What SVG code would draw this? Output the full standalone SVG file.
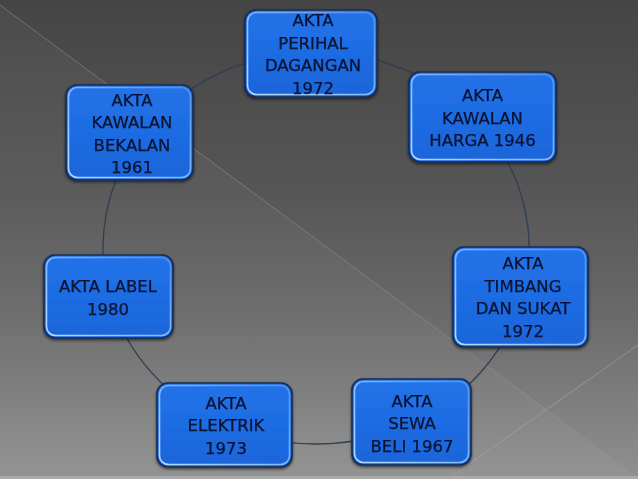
<svg xmlns="http://www.w3.org/2000/svg" width="638" height="479" viewBox="0 0 638 479">
<defs>
<linearGradient id="bg" x1="0" y1="0" x2="0" y2="1">
<stop offset="0" stop-color="#454545"/>
<stop offset="0.4" stop-color="#565656"/>
<stop offset="0.65" stop-color="#696969"/>
<stop offset="1" stop-color="#909090"/>
</linearGradient>
<linearGradient id="fill" x1="0" y1="0" x2="0" y2="1">
<stop offset="0" stop-color="#2572e8"/>
<stop offset="0.5" stop-color="#1d6ce2"/>
<stop offset="1" stop-color="#1a64da"/>
</linearGradient>
<linearGradient id="bevel" x1="0" y1="1" x2="1" y2="0">
<stop offset="0" stop-color="#b4dcff"/>
<stop offset="0.5" stop-color="#7fb8ff"/>
<stop offset="1" stop-color="#4f8fe8"/>
</linearGradient>
<filter id="sh" x="-10%" y="-10%" width="120%" height="125%">
<feDropShadow dx="0" dy="1.5" stdDeviation="1.8" flood-color="#000" flood-opacity="0.6"/>
</filter>
</defs>
<style>
.box{fill:url(#fill);stroke:#172c52;stroke-width:1.6}
.bev{fill:none;stroke:url(#bevel);stroke-width:1.6}
.t{font-family:"DejaVu Sans","Liberation Sans",sans-serif;font-size:16.5px;fill:#081230;stroke:#081230;stroke-width:0.25;text-anchor:middle}
.arc{fill:none;stroke:#2f3f52;stroke-width:1.3}
</style>
<rect x="0" y="0" width="638" height="479" fill="url(#bg)"/>
<polygon points="0,5 638,478 0,479" fill="#ffffff" fill-opacity="0.035"/>
<line x1="0" y1="5" x2="638" y2="478" stroke="#9a9a9a" stroke-opacity="0.5" stroke-width="1"/>
<line x1="448" y1="479" x2="638" y2="345" stroke="#a8a8a8" stroke-opacity="0.6" stroke-width="1"/>
<rect x="0" y="476" width="638" height="3" fill="#ababab"/>
<g id="connectors">
<path class="arc" d="M316,52 A213,196 0 0,1 477.8,120.4"/>
<path class="arc" d="M477.8,120.4 A213,196 0 0,1 522.1,297.4"/>
<path class="arc" d="M522.1,297.4 A213,196 0 0,1 411.7,423.1"/>
<path class="arc" d="M411.7,423.1 A213,196 0 0,1 224,424.8"/>
<path class="arc" d="M224,424.8 A213,196 0 0,1 109.3,295.4"/>
<path class="arc" d="M109.3,295.4 A213,196 0 0,1 139.4,138.4"/>
<path class="arc" d="M139.4,138.4 A213,196 0 0,1 316,52"/>
</g>
<g id="n1" filter="url(#sh)">
<rect class="box" x="245" y="10" width="132" height="87" rx="11"/>
<rect class="bev" x="247.5" y="12.5" width="127" height="82" rx="9"/>
<text class="t" x="313" y="26">AKTA</text>
<text class="t" x="313" y="48.5">PERIHAL</text>
<text class="t" x="313" y="71">DAGANGAN</text>
<text class="t" x="313" y="93.5">1972</text>
</g>
<g id="n2" filter="url(#sh)">
<rect class="box" x="409" y="72" width="147" height="90" rx="11"/>
<rect class="bev" x="411.5" y="74.5" width="142" height="85" rx="9"/>
<text class="t" x="482.5" y="101">AKTA</text>
<text class="t" x="482.5" y="123.5">KAWALAN</text>
<text class="t" x="482.5" y="146">HARGA 1946</text>
</g>
<g id="n3" filter="url(#sh)">
<rect class="box" x="453" y="247" width="135" height="100" rx="11"/>
<rect class="bev" x="455.5" y="249.5" width="130" height="95" rx="9"/>
<text class="t" x="523" y="269">AKTA</text>
<text class="t" x="523" y="291.5">TIMBANG</text>
<text class="t" x="523" y="314">DAN SUKAT</text>
<text class="t" x="523" y="336.5">1972</text>
</g>
<g id="n4" filter="url(#sh)">
<rect class="box" x="44" y="255" width="129" height="83" rx="11"/>
<rect class="bev" x="46.5" y="257.5" width="124" height="78" rx="9"/>
<text class="t" x="108" y="292">AKTA LABEL</text>
<text class="t" x="108" y="314.5">1980</text>
</g>
<g id="n5" filter="url(#sh)">
<rect class="box" x="352" y="379" width="119" height="86" rx="11"/>
<rect class="bev" x="354.5" y="381.5" width="114" height="81" rx="9"/>
<text class="t" x="412" y="406.5">AKTA</text>
<text class="t" x="412" y="429">SEWA</text>
<text class="t" x="412" y="451.5">BELI 1967</text>
</g>
<g id="n6" filter="url(#sh)">
<rect class="box" x="157" y="383" width="135" height="84" rx="11"/>
<rect class="bev" x="159.5" y="385.5" width="130" height="79" rx="9"/>
<text class="t" x="226" y="408.5">AKTA</text>
<text class="t" x="226" y="431">ELEKTRIK</text>
<text class="t" x="226" y="453.5">1973</text>
</g>
<g id="n7" filter="url(#sh)">
<rect class="box" x="66" y="85" width="127" height="95" rx="11"/>
<rect class="bev" x="68.5" y="87.5" width="122" height="90" rx="9"/>
<text class="t" x="132" y="105.5">AKTA</text>
<text class="t" x="132" y="128">KAWALAN</text>
<text class="t" x="132" y="150.5">BEKALAN</text>
<text class="t" x="132" y="173">1961</text>
</g>
</svg>
